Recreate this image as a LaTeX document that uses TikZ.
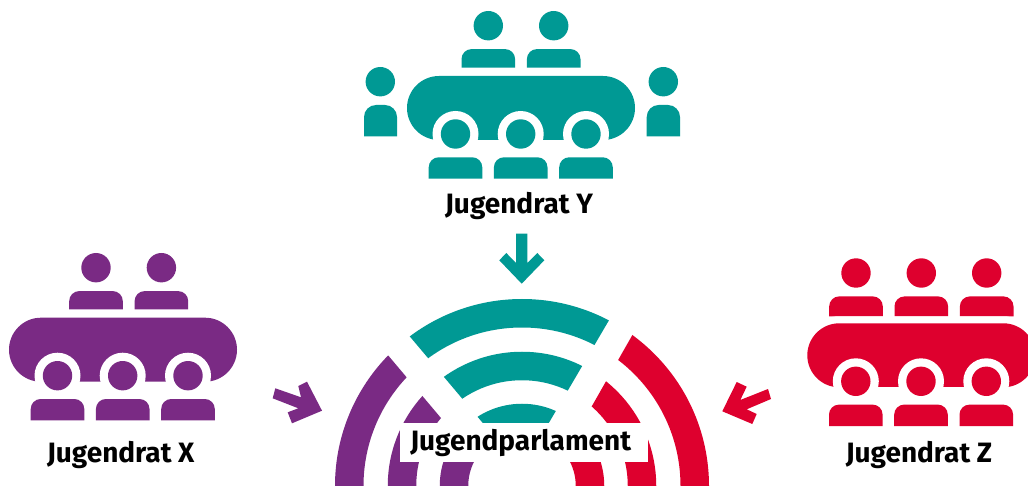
\documentclass[tikz,border=0pt]{standalone}
\usepackage{fontspec}
\setmainfont{Fira Sans}
\definecolor{teal1}{HTML}{009994}
\definecolor{purp}{HTML}{7A2A84}
\definecolor{red1}{HTML}{DE002E}
% x left, x right, y top, y bottom, corner radius, colour
\newcommand{\bodyshape}[6]{%
  \fill[#6] (#1,#4) -- (#1,#3+#5) arc[start angle=180,end angle=90,x radius=#5,y radius=-#5] -- (#2-#5,#3) arc[start angle=90,end angle=0,x radius=#5,y radius=-#5] -- (#2,#4) -- cycle;
}
% x head, y head, body bottom offset, colour
\newcommand{\person}[4]{%
  \fill[#4] (#1,#2) circle[radius=14.7];
  \bodyshape{#1-26.8}{#1+26.8}{#2+23.4}{#2+#3}{10}{#4}
}
\newcommand{\tablebody}[3]{% x left, y top, colour
  \fill[#3,rounded corners=32pt] (#1,#2) rectangle ++(228,64);
  \foreach \dx in {48.5,113.7,179}{\fill[white] (#1+\dx,#2+58) circle[radius=23];}
  \fill[white] (#1,#2+64) rectangle ++(228,17);
  \foreach \dx in {48.5,113.7,179}{
    \fill[#3] (#1+\dx,#2+58) circle[radius=14.7];
    \bodyshape{#1+\dx-26.8}{#1+\dx+26.8}{#2+81.3}{#2+102.7}{10}{#3}
  }
}
\tikzset{lbl/.style={font=\bfseries\fontsize{28}{32}\selectfont,text=black,inner sep=0pt,anchor=base}}
\begin{document}
\begin{tikzpicture}[x=1pt,y=-1pt]
\useasboundingbox (0,0) rectangle (1028,486);
\fill[white] (0,0) rectangle (1028,486);
% Y
\tablebody{407}{76}{teal1}
\person{488.3}{25.7}{42}{teal1}
\person{553.7}{25.7}{42}{teal1}
\fill[teal1] (380.3,81.7) circle[radius=14.7];
\fill[teal1] (663.3,81.7) circle[radius=14.7];
\bodyshape{364}{397}{105}{136.3}{12}{teal1}
\bodyshape{646.7}{680}{105}{136.3}{12}{teal1}
% X
\person{96}{267.7}{41.7}{purp}
\person{161.4}{267.7}{41.7}{purp}
\tablebody{9}{317.7}{purp}
% Z
\person{856}{273}{43.5}{red1}
\person{921.3}{273}{43.5}{red1}
\person{986.7}{273}{43.5}{red1}
\draw[white,line width=14pt,rounded corners=32pt] (807.3,323.3) rectangle ++(228,64);
\tablebody{807.3}{323.3}{red1}
% arrows
\fill[teal1] (516,233.7) -- (527.3,233.7) -- (527.3,263) -- (537.3,253) -- (544.3,260.3) -- (521.7,283.7) -- (499.3,260.3) -- (506.3,253) -- (516,263) -- cycle;
\fill[purp] (275.3,388.3) -- (301,397.3) -- (298.3,386) -- (307,381.7) -- (322,410.7) -- (292,423.3) -- (287.7,412.3) -- (298.3,408.3) -- (272.7,398.3) -- cycle;
\fill[red1] (722.3,411.3) -- (736.7,382) -- (746.7,386.7) -- (740.3,400) -- (768,389) -- (771,399) -- (746.7,409.3) -- (756.7,414) -- (752.3,424) -- cycle;
% rings
\begin{scope}
\clip (370.6,290) -- (488.7,430) -- (544.7,430) -- (626.7,290) -- cycle;
\foreach \r in {172.75,120,68}{\draw[teal1,line width=28.5pt] (522,486) circle[radius=\r];}
\end{scope}
\begin{scope}
\clip (333,290) -- (498.3,486) -- (300,486) -- (300,290) -- cycle;
\foreach \r in {172.75,120,68}{\draw[purp,line width=28.5pt] (522,486) circle[radius=\r];}
\end{scope}
\begin{scope}
\clip (658,290) -- (546.4,486) -- (750,486) -- (750,290) -- cycle;
\foreach \r in {172.75,120,68}{\draw[red1,line width=28.5pt] (522,486) circle[radius=\r];}
\end{scope}
\fill[white] (400,422.7) rectangle (648,461.7);
\node[lbl] (p) at (520.7,450) {Jugendparlament};
\node[lbl] (x) at (120.8,462.7) {Jugendrat X};
\node[lbl] (y) at (519,213.3) {Jugendrat Y};
\node[lbl] (z) at (919,462.7) {Jugendrat Z};
\end{tikzpicture}
\end{document}
